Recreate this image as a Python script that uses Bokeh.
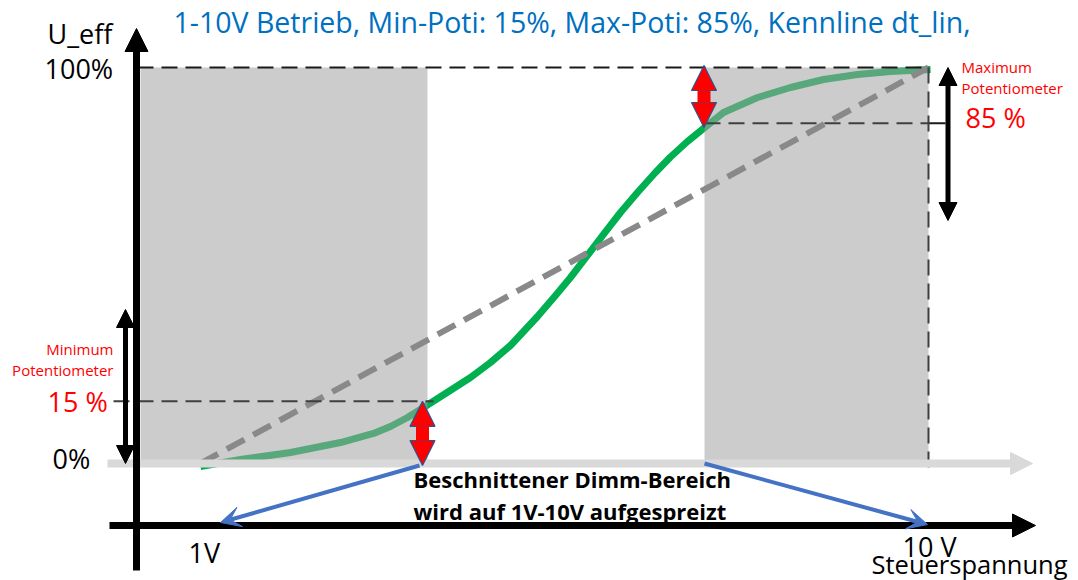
from bokeh.plotting import figure
from bokeh.models import Range1d, Arrow, NormalHead, VeeHead, Label
from bokeh.embed import file_html
from bokeh.resources import INLINE

# ---------------- data (volt on x, U_eff in % on y) ----------------
curve_volt = [1.000, 1.495, 2.113, 2.731, 3.139, 3.349, 3.559, 3.757, 4.029,
              4.338, 4.585, 4.832, 5.166, 5.389, 5.574, 5.784, 5.982, 6.192,
              6.402, 6.624, 6.810, 7.020, 7.218, 7.466, 7.886, 8.294, 8.702,
              9.122, 9.530, 10.025]
curve_ueff = [-0.76, 1.01, 2.78, 5.30, 7.58, 9.34, 11.62, 14.14, 17.68,
              21.72, 25.51, 29.80, 37.12, 42.42, 46.97, 52.53, 57.83, 63.38,
              68.43, 73.48, 77.40, 81.31, 84.60, 88.64, 92.42, 94.95, 96.97,
              98.23, 98.99, 99.49]
linear_volt = [1.0, 10.0]
linear_ueff = [0.0, 100.0]
min_poti = 15.7          # drawn position of the 15 % level
max_poti = 85.9          # drawn position of the 85 % level
cut_left = [0.258, 7.231]
cut_right = [3.806, 10.0]
cut_bottom = [-0.5, -0.5]
cut_top = [100.0, 100.0]
v_min, v_max = 1.0, 10.0
title_text = "1-10V Betrieb, Min-Poti: 15%, Max-Poti: 85%, Kennline  dt_lin,"

# ---------------- layout helpers (picture pixel -> data) ----------------
W, H = 1078, 580
PX_1V, PX_10V = 200.0, 928.0
PY_0, PY_100 = 463.0, 67.0


def vx(px):
    return 1 + (px - PX_1V) * 9 / (PX_10V - PX_1V)


def vy(py):
    return (PY_0 - py) * 100 / (PY_0 - PY_100)


GREEN = "#00B050"
BOX = "#A1A1A1"
DIAG = "#898989"
DASH = "#3F3F3F"
RED = "#FF0000"
BLUE = "#4472C4"
LIGHT = "#D9D9D9"
TITLE = "#0070C0"
FONT = "Open Sans"

p = figure(width=W, height=H,
           x_range=Range1d(vx(0), vx(W)), y_range=Range1d(vy(H), vy(0)),
           output_backend="svg", toolbar_location=None, min_border=0,
           x_axis_location=None, y_axis_location=None)
p.grid.visible = False
p.outline_line_color = None
p.background_fill_color = "white"
p.border_fill_color = "white"

# light grey 0 % arrow
p.add_layout(Arrow(x_start=vx(107), y_start=0, x_end=vx(1032), y_end=0,
                   line_color=LIGHT, line_width=8,
                   end=NormalHead(size=22, fill_color=LIGHT, line_color=LIGHT)))

# characteristic curve
p.line(curve_volt, curve_ueff, line_color=GREEN, line_width=7, line_join="round")

# cut-off ranges (semi transparent grey)
p.quad(left=cut_left, right=cut_right, bottom=cut_bottom, top=cut_top,
       fill_color=BOX, fill_alpha=0.545, line_color=None)

# linear reference
p.line(linear_volt, linear_ueff, line_color=DIAG, line_width=6, line_dash="20 10")

# dashed guide lines
p.line([vx(137), v_max], [100, 100], line_color="#1A1A1A", line_width=2, line_dash="16 8")
p.line([vx(113), vx(433)], [min_poti, min_poti], line_color=DASH, line_width=2, line_dash="16 8")
p.line([cut_left[1], v_max], [max_poti, max_poti], line_color=DASH, line_width=2, line_dash="16 8")
p.line([v_max, vx(945)], [max_poti, max_poti], line_color="#1A1A1A", line_width=2)
p.line([v_max, v_max], [100, vy(468)], line_color=DASH, line_width=2, line_dash="16 8")

# black axes
p.add_layout(Arrow(x_start=vx(136), y_start=vy(570), x_end=vx(136), y_end=vy(28),
                   line_color="black", line_width=7,
                   end=NormalHead(size=23, fill_color="black", line_color="black")))
p.add_layout(Arrow(x_start=vx(109), y_start=vy(525), x_end=vx(1035), y_end=vy(525),
                   line_color="black", line_width=7,
                   end=NormalHead(size=23, fill_color="black", line_color="black")))

# black double arrows (potentiometer ranges)
for xa, ya, yb in [(vx(125), vy(309), 0.0), (vx(947.5), 100.0, vy(220))]:
    p.add_layout(Arrow(x_start=xa, y_start=ya, x_end=xa, y_end=yb,
                       line_color="black", line_width=5,
                       start=NormalHead(size=18, fill_color="black", line_color="black"),
                       end=NormalHead(size=18, fill_color="black", line_color="black")))

# red double arrows (cut region)
for xa, ya, yb in [(vx(422), min_poti, vy(465)), (vx(703.5), 100.5, vy(127))]:
    p.add_layout(Arrow(x_start=xa, y_start=ya, x_end=xa, y_end=yb,
                       line_color=RED, line_width=13,
                       start=NormalHead(size=25, fill_color=RED, line_color="#2F528F", line_width=1.2),
                       end=NormalHead(size=25, fill_color=RED, line_color="#2F528F", line_width=1.2)))

# blue arrows to 1 V / 10 V
p.add_layout(Arrow(x_start=vx(419), y_start=vy(465), x_end=vx(220), y_end=vy(522),
                   line_color=BLUE, line_width=4,
                   end=VeeHead(size=20, fill_color=BLUE, line_color=BLUE)))
p.add_layout(Arrow(x_start=cut_left[1], y_start=0, x_end=vx(927), y_end=vy(524),
                   line_color=BLUE, line_width=4,
                   end=VeeHead(size=20, fill_color=BLUE, line_color=BLUE)))


def lab(px, py, text, size, color="black", align="left", style="normal"):
    # py is the wanted baseline; compensate the renderer's baseline offset
    p.add_layout(Label(x=vx(px), y=vy(py - 0.38 * size), text=text, text_font=FONT,
                       text_font_size=f"{size}px", text_color=color,
                       text_align=align, text_baseline="alphabetic",
                       text_font_style=style))


lab(173, 32, title_text, 28.5, TITLE)
lab(47, 43, "U_eff", 27)
lab(44, 78, "100%", 27)
lab(52, 468, "0%", 27)
lab(47, 411, "15 %", 27, RED)
lab(113, 354, "Minimum", 15, RED, "right")
lab(113, 375, "Potentiometer", 15, RED, "right")
lab(961, 72, "Maximum", 15, RED)
lab(961, 93, "Potentiometer", 15, RED)
lab(965, 127, "85 %", 27, RED)
lab(188, 562, "1V", 27)
lab(902, 556, "10 V", 27)
lab(871, 573, "Steuerspannung", 25.5)
lab(413, 487, "Beschnittener Dimm-Bereich", 22, "black", "left", "bold")
lab(413, 519, "wird auf 1V-10V aufgespreizt", 22, "black", "left", "bold")

open("out.html", "w").write(file_html(p, INLINE))
